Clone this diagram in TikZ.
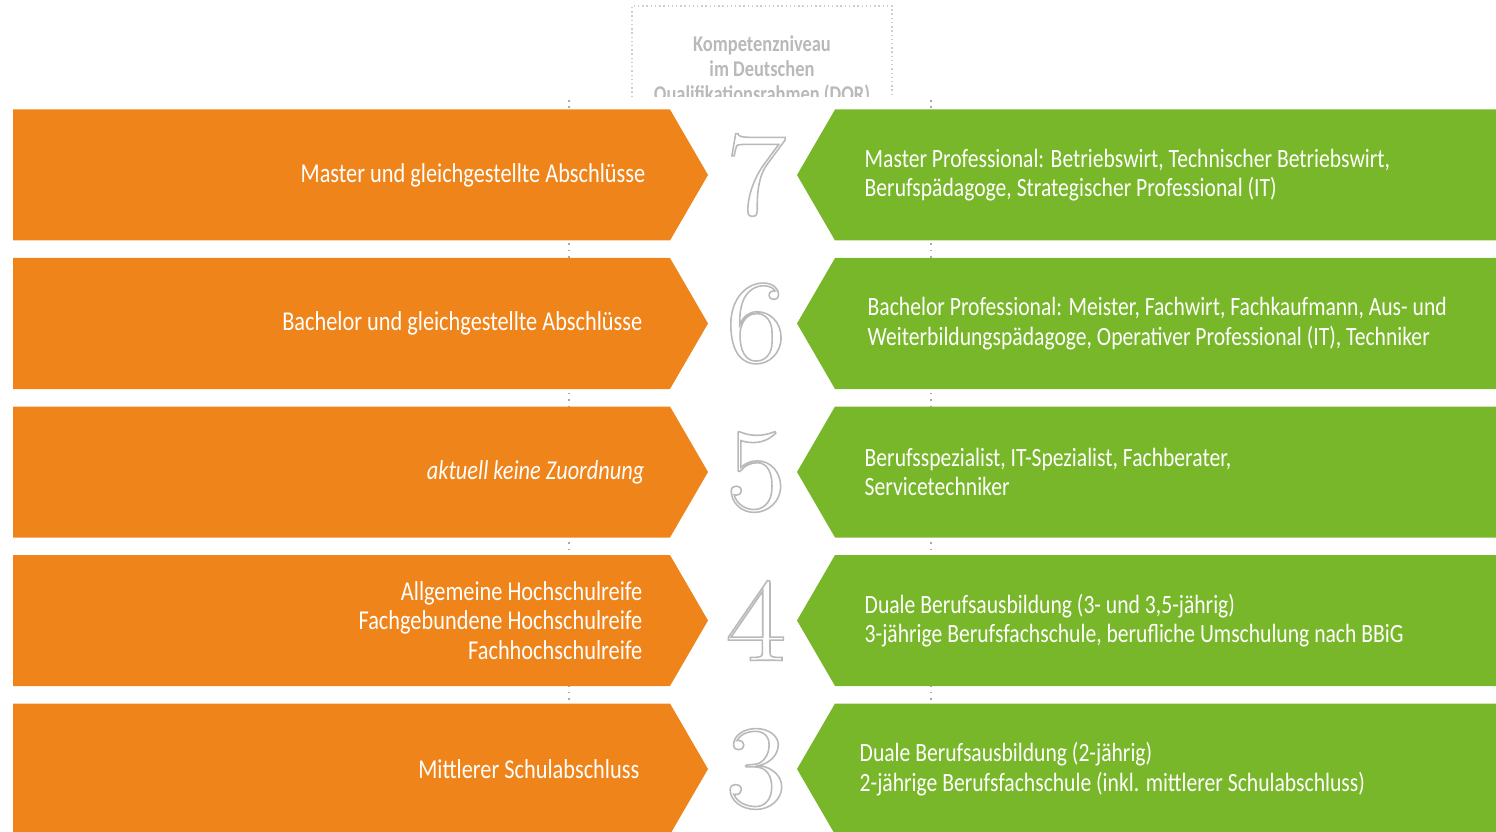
\documentclass[tikz,border=0pt]{standalone}
\usepackage{fontspec}
\setmainfont{Carlito}[FakeStretch=0.82]
\newfontfamily\digitfont{Latin Modern Roman}[FakeStretch=1.1]
\usetikzlibrary{positioning}

\definecolor{bborange}{RGB}{239,132,27}
\definecolor{bbgreen}{RGB}{120,183,42}
\definecolor{dqrgray}{RGB}{185,185,185}
\definecolor{dotgray}{RGB}{170,170,170}

% hollow digits: stroke only
\newcommand{\hohl}[1]{\special{pdf:literal direct 1 Tr 0.45 w}#1\special{pdf:literal direct 0 Tr}}

\begin{document}
\begin{tikzpicture}[
    lefttext/.style={anchor=east,align=right,text=white,inner sep=0pt,
      font=\fontsize{7.75}{8.4}\selectfont},
    righttext/.style={anchor=west,align=left,text=white,inner sep=0pt,
      font=\fontsize{7.5}{8.4}\selectfont},
    digit/.style={text=dqrgray,inner sep=0pt,font=\digitfont\fontsize{34}{34}\selectfont},
    head/.style={text=dqrgray,align=center,inner sep=0pt,
      font=\bfseries\fontsize{6.4}{7.1}\selectfont}
  ]
\useasboundingbox (0,0) rectangle (14.96,8.31);

% dotted guide lines behind the rows
\draw[dotgray,line width=0.6pt,dash pattern=on 0.5pt off 1.35pt] (5.69,7.31) -- (5.69,0);
\draw[dotgray,line width=0.6pt,dash pattern=on 0.5pt off 1.35pt] (9.31,7.31) -- (9.31,0);

% header box, cut off by the first row
\draw[dqrgray!70,line width=0.5pt,dash pattern=on 0.4pt off 0.8pt]
  (6.32,7.34) -- (6.32,8.25) -- (8.92,8.25) -- (8.92,7.34);
\begin{scope}
  \clip (6.3,7.345) rectangle (8.95,8.3);
  \node[head] (dqr) at (7.62,7.61) {Kompetenzniveau\\im Deutschen\\Qualifikationsrahmen (DQR)};
\end{scope}

% rows
\foreach \n/\y in {7/6.56,6/5.075,5/3.59,4/2.105,3/0.62} {
  \fill[bborange] (0.13,\y+0.655) -- (6.70,\y+0.655) -- (7.08,\y) -- (6.70,\y-0.655) -- (0.13,\y-0.655) -- cycle;
  \fill[bbgreen] (8.35,\y+0.655) -- (14.96,\y+0.655) -- (14.96,\y-0.655) -- (8.35,\y-0.655) -- (7.97,\y) -- cycle;
  \node[digit] (n\n) at (7.56,\y) {\hohl{\n}};
}

% left: schools
\node[lefttext] (l7) at (6.46,6.56) {Master und gleichgestellte Abschlüsse};
\node[lefttext] (l6) at (6.43,5.075) {Bachelor und gleichgestellte Abschlüsse};
\node[lefttext] (l5) at (6.45,3.59) {\itshape aktuell keine Zuordnung};
\node[lefttext] (l4) at (6.43,2.105) {Allgemeine Hochschulreife\\Fachgebundene Hochschulreife\\Fachhochschulreife};
\node[lefttext] (l3) at (6.40,0.62) {Mittlerer Schulabschluss};

% right: vocational training
\node[righttext] (r7) at (8.64,6.56) {Master Professional: Betriebswirt, Technischer Betriebswirt,\\Berufspädagoge, Strategischer Professional (IT)};
\node[righttext] (r6) at (8.67,5.075) {Bachelor Professional: Meister, Fachwirt, Fachkaufmann, Aus- und\\Weiterbildungspädagoge, Operativer Professional (IT), Techniker};
\node[righttext] (r5) at (8.64,3.59) {Berufsspezialist, IT-Spezialist, Fachberater,\\Servicetechniker};
\node[righttext] (r4) at (8.64,2.105) {Duale Berufsausbildung (3- und 3,5-jährig)\\3-jährige Berufsfachschule, berufliche Umschulung nach BBiG};
\node[righttext] (r3) at (8.59,0.62) {Duale Berufsausbildung (2-jährig)\\2-jährige Berufsfachschule (inkl. mittlerer Schulabschluss)};
\end{tikzpicture}
\end{document}
